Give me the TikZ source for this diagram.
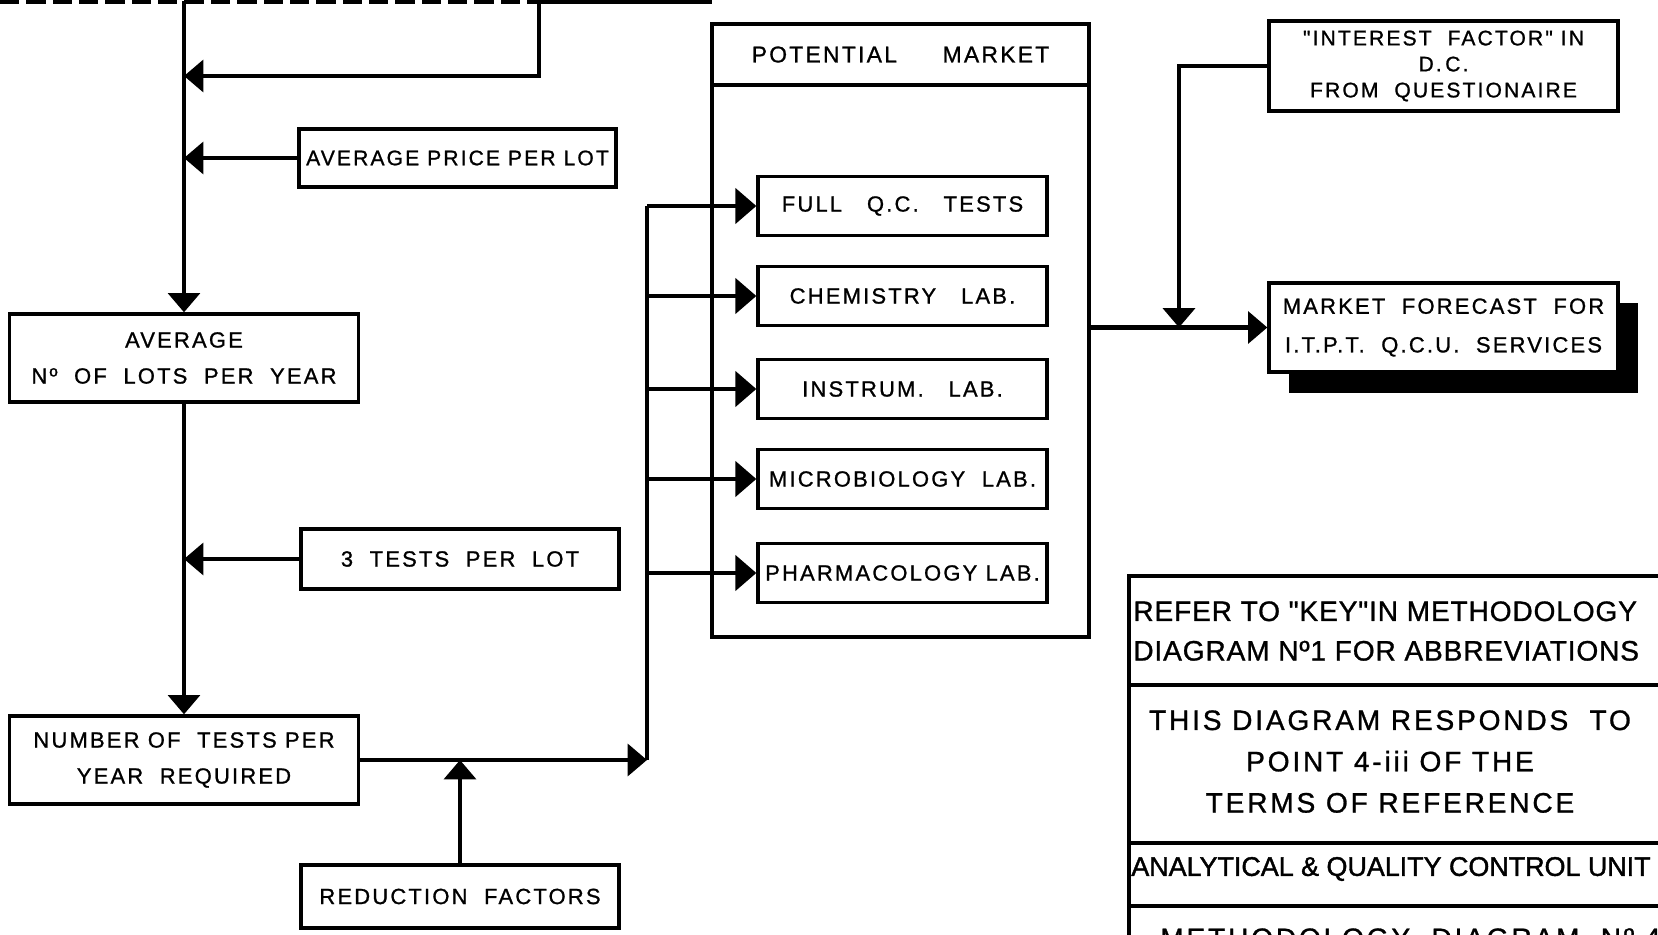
\documentclass[tikz,border=0pt]{standalone}
\usepackage{fontspec}
\setmainfont{Liberation Sans}[LetterSpace=10, Ligatures=TeXOff, FakeBold=1]
\newfontfamily\tightfont{Liberation Sans}[LetterSpace=3, Ligatures=TeXOff, FakeBold=1]
\newfontfamily\condfont{Liberation Sans}[Ligatures=TeXOff, FakeBold=1.5]
\usetikzlibrary{arrows.meta}
\begin{document}
\begin{tikzpicture}[x=0.02cm,y=-0.02cm,
  box/.style={draw, line width=1.9pt, fill=white, align=center, inner sep=0pt,
    font=\fontsize{12}{20.5}\selectfont},
  labbox/.style={box, minimum width=5.78cm, minimum height=1.18cm,
    font=\fontsize{12.5}{14}\selectfont},
  conn/.style={line width=2.6pt},
  arr/.style={conn, -{Triangle[length=11pt,width=18pt]}},
  labarr/.style={conn, -{Triangle[length=12pt,width=20pt]}},
  tbltext/.style={inner sep=0pt, font=\fontsize{16}{22.5}\selectfont},
]
\useasboundingbox (0,0) rectangle (1658,935);

% boxes on the left
\node[box, minimum width=6.34cm, minimum height=1.16cm] (price) at (457.5,158) {AVERAGE PRICE PER LOT};
\node[box, minimum width=6.98cm, minimum height=1.76cm, font=\fontsize{12.5}{20.5}\selectfont] (avg) at (184,358) {AVERAGE\\Nº\ \ OF\ \ LOTS\ \ PER\ \ YEAR};
\node[box, minimum width=6.36cm, minimum height=1.2cm, font=\fontsize{12.5}{20.5}\selectfont] (tests) at (460,559) {3\ \ TESTS\ \ PER\ \ LOT};
\node[box, minimum width=6.98cm, minimum height=1.76cm, font=\fontsize{12.5}{20.5}\selectfont] (num) at (184,760) {NUMBER\ OF\ \ TESTS\ PER\\YEAR\ \ REQUIRED};
\node[box, minimum width=6.36cm, minimum height=1.26cm, font=\fontsize{12.5}{20.5}\selectfont] (red) at (460,896.5) {REDUCTION\ \ FACTORS};

% potential market
\node[box, minimum width=7.54cm, minimum height=12.26cm] (market) at (900.5,330.5) {};
\node[box, minimum width=7.54cm, minimum height=1.22cm, anchor=north, font=\fontsize{13}{16}\selectfont] (mhead) at (market.north) {POTENTIAL\qquad MARKET};
\node[labbox] (full) at (902.5,206) {FULL\ \ \ Q.C.\ \ \ TESTS};
\node[labbox] (chem) at (902.5,296) {CHEMISTRY\ \ \ LAB.};
\node[labbox] (instr) at (902.5,389) {INSTRUM.\ \ \ LAB.};
\node[labbox] (micro) at (902.5,479) {MICROBIOLOGY\ \ LAB.};
\node[labbox] (pharm) at (902.5,573) {PHARMACOLOGY LAB.};

% right side
\node[box, minimum width=6.98cm, minimum height=1.8cm, font=\fontsize{12}{14.8}\selectfont] (interest) at (1443.5,66) {"INTEREST\ \ FACTOR" IN\\D.\,C.\\FROM\ \ QUESTIONAIRE};
\fill[black] (1289,303) rectangle (1638,393);
\node[box, minimum width=6.98cm, minimum height=1.78cm, font=\fontsize{12.5}{22}\selectfont] (forecast) at (1443.5,327.5) {MARKET\ \ FORECAST\ \ FOR\\I.T.P.T.\ \ Q.C.U.\ \ SERVICES};

% top edge of a box cut off above
\coordinate (topl) at (0,1);
\coordinate (rc) at (539,1);
\coordinate (topr) at (712,1);
\draw[conn, line width=3pt, dash pattern=on 11pt off 4pt] (topl) -- (rc);
\draw[conn, line width=3pt] (rc) -- (topr);

% main vertical line
\coordinate (top) at (184,1);
\coordinate (j1) at (184,76);
\draw[arr] (top) -- (avg.north);
\draw[arr] (rc) |- (j1);
\draw[arr] (price.west) -- (price.west -| avg.north);
\draw[arr] (avg.south) -- (num.north);
\draw[arr] (tests.west) -- (tests.west -| avg.south);

% bus to the labs
\coordinate (bt) at (647,206);
\coordinate (bb) at (647,760);
\draw[conn] (bt) -- (bb);
\draw[arr] (num.east) -- (bb);
\draw[arr] (red.north) -- (red.north |- num.east);
\foreach \l in {full,chem,instr,micro,pharm}
  \draw[labarr] (bt |- \l.west) -- (\l.west);

% to the forecast
\coordinate (j2) at (1179,327.5);
\draw[arr] (market.east |- forecast.west) -- (forecast.west);
\draw[arr] (interest.west) -| (j2);

% title block
\coordinate (t0) at (1129,576);
\draw[line width=1.9pt] (1680,576) -- (t0) -- (1129,945);
\draw[line width=1.9pt] (1129,685) -- (1680,685);
\draw[line width=2.3pt] (1129,843) -- (1680,843);
\draw[line width=2.3pt] (1129,906) -- (1680,906);
\node[tbltext, anchor=north west, align=left, font=\tightfont\fontsize{16}{22.5}\selectfont] (r1) at (1133,601) {REFER TO "KEY"IN METHODOLOGY\\DIAGRAM Nº1 FOR ABBREVIATIONS};
\node[tbltext, anchor=north, align=center, font=\fontsize{16}{23.5}\selectfont] (r2) at (1390,710) {THIS DIAGRAM RESPONDS\ \ TO\\POINT 4-iii OF THE\\TERMS OF REFERENCE};
\node[tbltext, anchor=west, font=\condfont\fontsize{15.3}{20}\selectfont] (r3) at (1131,869) {ANALYTICAL \& QUALITY CONTROL UNIT};
\node[tbltext, anchor=base west] (r4) at (1160,948) {METHODOLOGY\ \ DIAGRAM\ \ Nº\ 4};
\end{tikzpicture}
\end{document}
